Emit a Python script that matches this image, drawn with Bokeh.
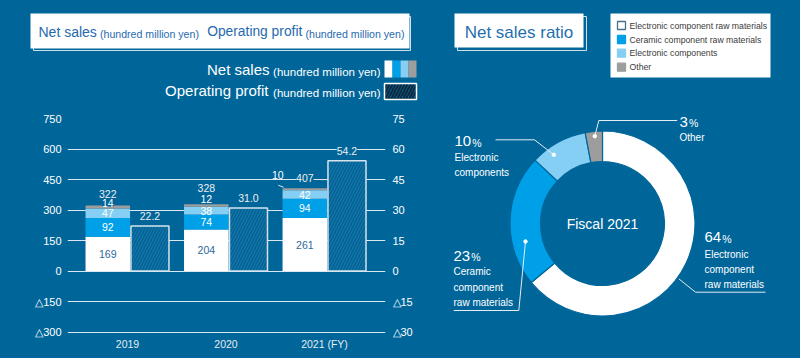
import numpy as np
from bokeh.plotting import figure
from bokeh.layouts import row, column
from bokeh.models import Range1d, LinearAxis, FixedTicker, ColumnDataSource
from bokeh.core.properties import value
from bokeh.embed import file_html
from bokeh.resources import INLINE

# ---------------- data ----------------
years = ["2019", "2020", "2021 (FY)"]
elec_raw = [169, 204, 261]        # Electronic component raw materials
ceramic_raw = [92, 74, 94]        # Ceramic component raw materials
elec_comp = [47, 38, 42]          # Electronic components
other = [14, 12, 10]              # Other
net_totals = [322, 328, 407]
op_profit = [22.2, 31.0, 54.2]
left_ticks = [-300, -150, 0, 150, 300, 450, 600, 750]
right_ticks = [-30, -15, 0, 15, 30, 45, 60, 75]
ratio_labels = ["Electronic component raw materials", "Ceramic component raw materials",
                "Electronic components", "Other"]
ratio_values = [64, 23, 10, 3]
ratio_names_wrapped = ["Electronic\ncomponent\nraw materials", "Ceramic\ncomponent\nraw materials",
                       "Electronic\ncomponents", "Other"]
donut_center_text = "Fiscal 2021"

# ---------------- styles ----------------
BG = "#00669a"
WHITE = "#ffffff"
BLUE = "#00a0e9"
LIGHT = "#84cff3"
GRAY = "#9d9d9d"
TITLE_BLUE = "#1f6ab0"
GRID = "#dce8ef"
FONT = "Liberation Sans"
SEG_COLORS = [WHITE, BLUE, LIGHT, GRAY]

LW, H, TOPH = 440, 358, 102
RW = 800 - LW


def plain_fig(w, h, xr, yr):
    f = figure(width=w, height=h, x_range=xr, y_range=yr, output_backend="svg",
               toolbar_location=None, min_border=0, x_axis_location=None, y_axis_location=None,
               frame_align=False)
    f.background_fill_color = BG
    f.border_fill_color = BG
    f.outline_line_color = None
    f.grid.visible = False
    return f


def txt(f, x, y, s, size, color, align="left", baseline="middle"):
    f.text(x=[x], y=[y], text=[s], text_font=value(FONT), text_font_size=size,
           text_color=color, text_align=align, text_baseline=baseline)


# ---------------- top-left: title + legend (page pixel coords) ----------------
top = plain_fig(LW, TOPH, Range1d(0, LW), Range1d(TOPH, 0))
top.quad(left=33, right=410, top=16, bottom=50, fill_color=None, line_color="#cfe0ea", line_width=1)
top.quad(left=30, right=409, top=13, bottom=48, fill_color=WHITE, line_color=None)
txt(top, 38, 31.4, "Net sales", "14px", TITLE_BLUE)
txt(top, 99.5, 33.6, "(hundred million yen)", "10.6px", TITLE_BLUE)
txt(top, 206.7, 31.4, "Operating profit", "13.8px", TITLE_BLUE)
txt(top, 305, 33.6, "(hundred million yen)", "10.6px", TITLE_BLUE)
txt(top, 269, 68.5, "Net sales", "15px", WHITE, align="right")
txt(top, 380, 71, "(hundred million yen)", "11.5px", WHITE, align="right")
txt(top, 268, 90.3, "Operating profit", "15px", WHITE, align="right")
txt(top, 380, 92.8, "(hundred million yen)", "11.5px", WHITE, align="right")
top.quad(left=[384, 392, 400, 408], right=[392, 400, 408, 416], top=60, bottom=77,
         fill_color=SEG_COLORS, line_color=None)
top.quad(left=384, right=416, top=83, bottom=99, fill_color=BG, hatch_pattern="/",
         hatch_color="#10263a", hatch_weight=2, hatch_scale=6, line_color=WHITE, line_width=1.5)

# ---------------- bottom-left: bar chart ----------------
FL, FR, FT, FB = 67, 385, 118, 334   # frame edges (page px)
bar = figure(width=LW, height=H - TOPH, x_range=Range1d(-0.609, 2.619), y_range=Range1d(-312, 750),
             output_backend="svg", toolbar_location=None, frame_align=False,
             min_border_left=FL, min_border_right=LW - FR, min_border_top=FT - TOPH, min_border_bottom=H - FB)
bar.background_fill_color = BG
bar.border_fill_color = BG
bar.outline_line_color = None
bar.extra_y_ranges = {"profit": Range1d(-31.2, 75)}
bar.add_layout(LinearAxis(y_range_name="profit", ticker=FixedTicker(ticks=right_ticks)), "right")


def neg_label(t):
    return "\u25b3%d" % -t if t < 0 else str(t)


bar.yaxis[0].ticker = FixedTicker(ticks=left_ticks)
bar.yaxis[0].major_label_overrides = {t: neg_label(t) for t in left_ticks}
bar.yaxis[1].major_label_overrides = {t: neg_label(t) for t in right_ticks}
bar.xaxis.ticker = FixedTicker(ticks=list(range(len(years))))
bar.xaxis.major_label_overrides = {i: y for i, y in enumerate(years)}
for ax in bar.axis:
    ax.axis_line_color = None
    ax.major_tick_line_color = None
    ax.minor_tick_line_color = None
    ax.major_tick_out = 0
    ax.major_tick_in = 0
    ax.minor_tick_out = 0
    ax.major_label_text_color = WHITE
    ax.major_label_text_font = FONT
    ax.major_label_text_font_size = "11px"
bar.yaxis[0].major_label_standoff = 6
bar.yaxis[1].major_label_standoff = 7
bar.xaxis.major_label_standoff = 3
bar.xaxis.major_label_text_font_size = "10.5px"
bar.xaxis.major_label_text_color = "#e4ecf2"
bar.xgrid.visible = False
bar.ygrid.ticker = FixedTicker(ticks=left_ticks)
bar.ygrid.grid_line_color = GRID
bar.ygrid.grid_line_width = 1.2

xs = np.arange(len(years))
NET_DX, NET_W = -0.2, 0.452
OP_DX, OP_W = 0.228, 0.386
c1 = np.array(elec_raw)
c2 = c1 + np.array(ceramic_raw)
c3 = c2 + np.array(elec_comp)
c4 = c3 + np.array(other)
src = ColumnDataSource(dict(
    x_net=xs + NET_DX, x_op=xs + OP_DX,
    elec_raw=elec_raw, ceramic_raw=ceramic_raw, elec_comp=elec_comp, other=other,
    m1=c1 / 2, m2=(c1 + c2) / 2, m3=(c2 + c3) / 2, top=c4,
    t1=[str(v) for v in elec_raw], t2=[str(v) for v in ceramic_raw],
    t3=[str(v) for v in elec_comp], t4=[str(v) for v in other],
    tot_t=[str(v) for v in net_totals],
    op=op_profit, op_t=["%.1f" % v for v in op_profit],
    # label layout offsets (pixels)
    other_dx=[0, 0, -27], other_dy=[-3, -5.5, -13.6], tot_dy=[-12, -16.5, -10],
))

bar.vbar_stack(["elec_raw", "ceramic_raw", "elec_comp", "other"], x="x_net", width=NET_W,
               fill_color=SEG_COLORS, line_color=None, source=src)
bar.vbar(x="x_op", top="op", bottom=0, width=OP_W, y_range_name="profit", source=src,
         fill_color=BG, hatch_pattern="/", hatch_color="#2a78a8", hatch_weight=0.8, hatch_scale=6,
         line_color="#d5e3ec", line_width=1.5)

lbl = dict(text_font=value(FONT), text_font_size="10.5px", text_align="center", text_baseline="middle", source=src)
bar.text(x="x_net", y="m1", text="t1", text_color="#2a6a9a", **lbl)
bar.text(x="x_net", y="m2", text="t2", text_color=WHITE, **lbl)
bar.text(x="x_net", y="m3", text="t3", text_color=WHITE, **lbl)
bar.text(x="x_net", y="top", text="t4", text_color=WHITE, x_offset="other_dx", y_offset="other_dy",
         background_fill_color=BG, **lbl)
bar.text(x="x_net", y="top", text="tot_t", text_color="#eeeeee", y_offset="tot_dy",
         background_fill_color=BG, **lbl)
bar.text(x="x_op", y="op", text="op_t", y_range_name="profit", text_color="#eeeeee", y_offset=-10,
         background_fill_color=BG, **lbl)
# leader for the outside "other" label of the last year
li = len(years) - 1
bar.segment(x0=[xs[li] + NET_DX - 0.27], y0=[c4[li] + 15], x1=[xs[li] + NET_DX - 0.215], y1=[c4[li] + 5],
            line_color="#dde8ef", line_width=1)

# ---------------- right: donut (page px: x-440, 358-y) ----------------
donut = plain_fig(RW, H, Range1d(0, RW), Range1d(0, H))
# title box
donut.quad(left=17, right=146, top=342, bottom=308, fill_color=None, line_color="#cfe0ea", line_width=1)
donut.quad(left=14, right=143, top=345, bottom=311, fill_color=WHITE, line_color=None)
txt(donut, 78.5, 326, "Net sales ratio", "17px", "#1f70ae", align="center")
# legend box
donut.quad(left=170, right=330, top=345, bottom=281, fill_color=WHITE, line_color=None)
leg_y = [333, 319, 305.3, 291.3]
donut.rect(x=[181] * 4, y=leg_y, width=8, height=8, fill_color=SEG_COLORS,
           line_color=["#46708e", BLUE, LIGHT, GRAY], line_width=1.3)
donut.text(x=[189] * 4, y=leg_y, text=ratio_labels, text_font=value(FONT), text_font_size="8.7px",
           text_color="#3a3a3a", text_baseline="middle")

frac = np.array(ratio_values) / np.sum(ratio_values)
cum = np.cumsum(frac)
dsrc = ColumnDataSource(dict(start=np.pi / 2 - 2 * np.pi * (cum - frac), end=np.pi / 2 - 2 * np.pi * cum,
                             color=SEG_COLORS))
CX, CY = 162, 135
donut.annular_wedge(x=CX, y=CY, inner_radius=62, outer_radius=92.5, start_angle="start", end_angle="end",
                    direction="clock", fill_color="color", line_color=BG, line_width=1.2, source=dsrc)
txt(donut, CX, CY, donut_center_text, "14px", WHITE, align="center")

# leader lines
leaders_x = [[238.3, 255, 325], [85, 78.3, 13.3], [55, 94, 113.3], [236.7, 158.3, 154.3]]
leaders_y = [[79.7, 66.3, 66.3], [117, 48, 48], [218.7, 218.7, 203.7], [238, 238, 222.3]]
donut.multi_line(xs=leaders_x, ys=leaders_y, line_color="#e3edf3", line_width=1)
donut.scatter(x=[leaders_x[1][0], leaders_x[2][2], leaders_x[3][2]],
              y=[leaders_y[1][0], leaders_y[2][2], leaders_y[3][2]], size=3.5, color=WHITE)

# percent labels
lab_x = [264, 13, 14, 239]
num_mid_y = [121.3, 103, 217.3, 237]
name_top_y = [110, 92.3, 207, 227]
donut.text(x=lab_x, y=num_mid_y, text=[str(v) for v in ratio_values], text_font=value(FONT),
           text_font_size="15px", text_color=WHITE, text_baseline="middle")
donut.text(x=lab_x, y=[v - 1.6 for v in num_mid_y], text=["%"] * 4,
           x_offset=[len(str(v)) * 8.4 + 1 for v in ratio_values],
           text_font=value(FONT), text_font_size="10.5px", text_color=WHITE, text_baseline="middle")
donut.text(x=lab_x, y=name_top_y, text=ratio_names_wrapped, text_font=value(FONT), text_font_size="10px",
           text_color=WHITE, text_baseline="top", text_line_height=1.4)

bgstyle = {"background-color": BG}
layout = row(column(top, bar, styles=bgstyle), donut, styles=bgstyle)
open("out.html", "w").write(file_html(layout, INLINE))
